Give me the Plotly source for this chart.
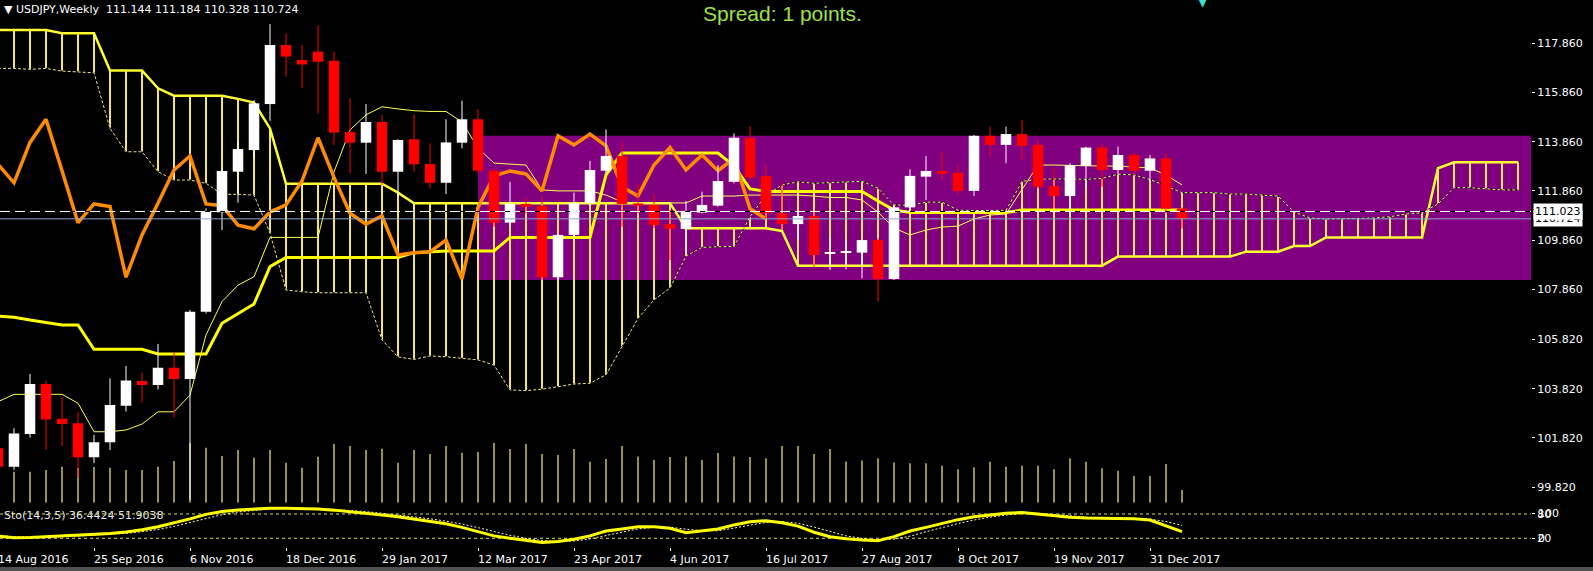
import plotly.graph_objects as go

# weekly USDJPY bars, bar 0 = week of 14 Aug 2016, one tick label every 6 bars
tick_labels = ["14 Aug 2016", "25 Sep 2016", "6 Nov 2016", "18 Dec 2016", "29 Jan 2017",
               "12 Mar 2017", "23 Apr 2017", "4 Jun 2017", "16 Jul 2017", "27 Aug 2017",
               "8 Oct 2017", "19 Nov 2017", "31 Dec 2017"]

opens = [101.40, 100.65, 101.98, 104.01, 102.60, 102.41, 101.03, 101.64, 103.13, 104.13,
         103.97, 104.67, 104.21, 106.95, 110.99, 112.64, 113.52, 115.39, 117.79, 117.18,
         117.52, 117.15, 114.25, 113.82, 114.66, 112.64, 113.96, 112.95, 112.19, 113.82,
         114.77, 112.68, 110.57, 111.33, 111.25, 108.35, 110.07, 111.36, 112.68, 113.28,
         111.35, 111.29, 110.51, 110.31, 110.98, 111.26, 112.23, 114.02, 112.47, 110.95,
         110.51, 110.84, 109.32, 109.35, 109.35, 109.86, 108.28, 111.19, 112.44, 112.67,
         112.60, 111.86, 114.10, 113.73, 114.17, 113.73, 112.06, 111.65, 112.87, 113.62,
         112.71, 113.32, 112.68, 113.18, 111.144]
highs = [101.73, 102.21, 104.42, 104.15, 103.47, 102.86, 101.94, 104.24, 104.74, 104.47,
         105.64, 105.32, 107.02, 111.15, 112.78, 113.86, 115.55, 118.64, 118.26, 117.79,
         118.60, 117.52, 115.62, 115.39, 114.95, 113.96, 114.97, 113.79, 114.77, 115.53,
         115.18, 112.78, 112.23, 111.56, 111.63, 110.13, 111.79, 113.08, 114.36, 113.86,
         112.17, 111.73, 111.08, 111.45, 111.83, 112.91, 114.20, 114.50, 112.91, 112.19,
         111.08, 111.02, 109.93, 109.89, 109.89, 109.93, 111.25, 112.74, 113.28, 113.45,
         112.91, 114.13, 114.47, 114.47, 114.74, 113.93, 112.78, 112.98, 113.66, 113.77,
         113.66, 113.41, 113.32, 113.39, 111.184]
lows = [100.38, 100.52, 101.84, 101.33, 101.49, 100.22, 100.79, 101.33, 102.89, 103.25,
        103.79, 102.66, 99.30, 106.88, 110.27, 111.38, 113.20, 114.71, 116.50, 116.03,
        115.01, 113.73, 112.57, 112.55, 112.10, 111.63, 112.64, 111.96, 111.73, 113.59,
        112.57, 110.41, 110.41, 110.95, 108.24, 108.24, 109.86, 111.22, 112.57, 110.40,
        110.95, 110.34, 109.05, 109.30, 110.95, 111.22, 112.17, 112.30, 110.74, 110.27,
        109.86, 108.78, 108.64, 108.67, 108.31, 107.36, 108.24, 111.08, 111.49, 112.30,
        111.69, 111.65, 113.25, 112.98, 113.14, 111.96, 111.15, 110.81, 111.97, 112.03,
        112.51, 112.51, 112.23, 110.95, 110.328]
closes = [100.65, 102.00, 104.01, 102.57, 102.38, 101.03, 101.64, 103.16, 104.15, 103.97,
          104.67, 104.21, 106.95, 111.02, 112.67, 113.56, 115.42, 117.79, 117.32, 117.00,
          117.11, 114.23, 113.82, 114.66, 112.64, 113.93, 112.94, 112.19, 113.83, 114.77,
          112.68, 110.57, 111.33, 111.22, 108.35, 110.07, 111.36, 112.71, 113.28, 111.33,
          111.26, 110.47, 110.32, 111.00, 111.29, 112.26, 114.02, 112.41, 110.95, 110.51,
          110.84, 109.25, 109.35, 109.38, 109.86, 108.28, 111.19, 112.47, 112.67, 112.55,
          111.86, 114.10, 113.73, 114.17, 113.69, 112.03, 111.65, 112.91, 113.62, 112.71,
          113.32, 112.68, 113.18, 111.14, 110.724]
# tick volume, thousands
volumes_k = [196, 186, 186, 196, 216, 208, 214, 210, 196, 196,
             216, 250, 358, 330, 280, 316, 270, 316, 240, 210,
             276, 352, 340, 316, 324, 240, 316, 292, 340, 300,
             304, 358, 322, 352, 292, 286, 322, 246, 262, 340,
             277, 256, 274, 277, 256, 298, 277, 274, 266, 340,
             340, 292, 322, 247, 253, 266, 241, 236, 236, 222,
             200, 212, 246, 216, 222, 222, 200, 266, 246, 206,
             192, 160, 160, 232, 76]

tenkan = [103.29, 103.59, 103.59, 103.59, 103.59, 103.23, 102.07, 102.07, 102.14, 102.38,
          102.88, 102.88, 103.56, 106.00, 107.36, 108.03, 108.37, 109.97, 109.97, 109.97,
          109.97, 112.63, 114.34, 114.95, 115.28, 115.19, 115.12, 115.09, 115.09, 114.66,
          113.60, 112.99, 112.95, 112.91, 111.90, 111.86, 111.86, 111.86, 111.69, 111.41,
          111.37, 111.37, 111.37, 111.37, 111.65, 111.65, 111.65, 111.69, 111.69, 111.69,
          111.69, 111.65, 111.59, 111.59, 111.49, 111.00, 110.35, 110.07, 110.27, 110.39,
          110.43, 110.72, 110.88, 110.92, 111.90, 112.91, 112.91, 112.89, 112.87, 112.87,
          112.87, 112.83, 112.79, 112.51, 112.10]
kijun = [106.77, 106.72, 106.61, 106.50, 106.41, 106.41, 105.42, 105.42, 105.42, 105.42,
         105.23, 105.23, 105.23, 105.23, 106.48, 106.88, 107.26, 108.78, 109.15, 109.15,
         109.15, 109.15, 109.15, 109.15, 109.15, 109.15, 109.35, 109.39, 109.42, 109.42,
         109.42, 109.42, 109.97, 109.97, 109.97, 109.97, 109.97, 109.97, 112.51, 113.40,
         113.40, 113.40, 113.40, 113.40, 113.40, 113.40, 112.87, 111.94, 111.84, 111.84,
         111.84, 111.84, 111.84, 111.84, 111.84, 111.45, 111.08, 110.98, 110.98, 110.98,
         110.98, 110.98, 110.98, 110.98, 111.08, 111.08, 111.08, 111.08, 111.08, 111.08,
         111.08, 111.08, 111.08, 111.08, 111.08]
# cloud runs 21 bars past the last candle
span_a = [116.84, 116.84, 116.80, 116.84, 116.73, 116.71, 116.66, 114.40, 113.45, 113.45,
          112.64, 112.30, 112.30, 112.17, 111.72, 111.72, 111.69, 110.14, 107.83, 107.76,
          107.72, 107.72, 107.72, 107.72, 105.80, 105.11, 105.01, 105.15, 105.12, 105.06,
          104.99, 104.78, 103.77, 103.74, 103.80, 103.90, 104.01, 104.04, 104.38, 105.53,
          106.68, 107.43, 107.91, 109.21, 109.56, 109.59, 109.60, 110.81, 111.69, 112.10,
          112.23, 112.17, 112.19, 112.23, 112.25, 111.97, 111.29, 111.27, 111.40, 111.40,
          111.08, 111.06, 111.06, 111.07, 112.25, 112.33, 112.35, 112.33, 112.33, 112.37,
          112.54, 112.51, 112.32, 112.06, 111.79, 111.79, 111.79, 111.73, 111.73, 111.69,
          111.65, 111.00, 110.76, 110.72, 110.72, 110.74, 110.76, 110.81, 110.92, 110.97,
          111.33, 111.99, 111.99, 111.93, 111.90, 111.90]
span_b = [118.40, 118.40, 118.40, 118.40, 118.27, 118.27, 118.27, 116.75, 116.75, 116.75,
          116.03, 115.73, 115.73, 115.73, 115.73, 115.60, 115.45, 114.40, 112.15, 112.15,
          112.15, 112.15, 112.15, 112.15, 112.15, 111.79, 111.36, 111.36, 111.36, 111.36,
          111.36, 111.36, 111.36, 111.36, 111.36, 111.36, 111.36, 111.36, 111.36, 111.36,
          111.36, 111.36, 111.36, 110.34, 110.34, 110.34, 110.34, 110.34, 110.34, 110.23,
          108.82, 108.82, 108.82, 108.82, 108.82, 108.82, 108.82, 108.82, 108.82, 108.82,
          108.82, 108.82, 108.82, 108.82, 108.82, 108.82, 108.82, 108.82, 108.82, 108.82,
          109.19, 109.19, 109.19, 109.19, 109.19, 109.19, 109.19, 109.19, 109.39, 109.39,
          109.39, 109.62, 109.62, 109.97, 109.97, 109.97, 109.97, 109.97, 109.97, 109.97,
          112.78, 113.02, 113.02, 113.02, 113.02, 113.02]
chikou_shift = 26

sto_main = [25.7, 21.5, 22.0, 24.0, 25.5, 27.0, 29.0, 32.0, 35.6, 41.0,
            48.7, 58.0, 68.0, 79.0, 86.0, 90.0, 92.5, 94.0, 94.0, 93.2,
            92.0, 89.5, 86.0, 81.7, 77.5, 73.4, 68.0, 63.0, 56.0, 47.0,
            36.0, 26.0, 20.0, 14.0, 9.5, 12.0, 17.5, 26.0, 38.0, 43.0,
            48.7, 48.7, 44.7, 34.0, 38.0, 43.0, 53.0, 61.0, 63.5, 58.5,
            50.0, 35.0, 24.0, 19.0, 16.0, 14.0, 24.0, 38.0, 47.0, 56.0,
            66.0, 73.0, 77.5, 82.0, 83.5, 80.0, 75.0, 72.0, 70.0, 69.0,
            68.5, 68.4, 65.0, 50.4, 36.4424]
sto_signal = [27.0, 24.0, 23.0, 22.5, 23.8, 25.5, 27.2, 29.3, 32.2, 36.2,
              41.8, 49.3, 58.9, 69.0, 78.3, 85.0, 89.5, 92.2, 93.5, 93.7,
              93.1, 91.6, 89.2, 85.7, 81.7, 77.5, 73.0, 68.1, 62.3, 55.3,
              46.3, 36.3, 27.3, 20.0, 14.5, 11.8, 13.2, 18.7, 27.3, 35.7,
              43.2, 46.8, 47.4, 42.5, 38.9, 38.3, 44.7, 52.3, 59.2, 61.0,
              57.3, 47.8, 36.3, 26.0, 19.7, 16.3, 18.0, 25.3, 36.3, 47.0,
              56.3, 65.0, 72.2, 77.5, 81.0, 81.8, 79.5, 75.7, 72.3, 70.3,
              69.2, 68.6, 67.3, 61.3, 51.9038]
sto_levels = [80, 20]

price_ticks = [117.86, 115.86, 113.86, 111.86, 109.86, 107.86, 105.82, 103.82, 101.82, 99.82]
marked_line = 111.023
box_start, box_top, box_bottom = 30, 114.10, 108.24

X_LO, X_HI = 0.125, 95.8125
MAIN_LO, STO_HI = 0.081, 0.0768
FONT = "DejaVu Sans"

bars = list(range(len(closes)))
ahead = list(range(len(span_a)))

fig = go.Figure()

# volume sticks on the base axis of the main panel
vx, vy = [], []
for i, v in zip(bars, volumes_k):
    vx += [i, i, None]
    vy += [0, v, None]
fig.add_trace(go.Scatter(x=vx, y=vy, mode='lines', line=dict(color='#FFF36A', width=1.2),
                         xaxis='x', yaxis='y'))

# ichimoku cloud hatch
hx, hy = [], []
for i, a, b in zip(ahead, span_a, span_b):
    hx += [i, i, None]
    hy += [a, b, None]
fig.add_trace(go.Scatter(x=hx, y=hy, mode='lines', line=dict(color='#F2E85A', width=2), yaxis='y3'))
fig.add_trace(go.Scatter(x=ahead, y=span_b, mode='lines', line=dict(color='#FFFF33', width=2.5), yaxis='y3'))
fig.add_trace(go.Scatter(x=ahead, y=span_a, mode='lines', line=dict(color='black', width=1), yaxis='y3'))
fig.add_trace(go.Scatter(x=ahead, y=span_a, mode='lines',
                         line=dict(color='#EEE68C', width=1, dash='3px,2px'), yaxis='y3'))
fig.add_trace(go.Scatter(x=bars, y=kijun, mode='lines', line=dict(color='#FFFF00', width=3), yaxis='y3'))
fig.add_trace(go.Scatter(x=bars, y=tenkan, mode='lines', line=dict(color='#FFFF55', width=1), yaxis='y3'))
fig.add_trace(go.Scatter(x=bars[:len(closes) - chikou_shift], y=closes[chikou_shift:], mode='lines',
                         line=dict(color='#FF8C00', width=3.5), yaxis='y3'))

# candles
up = [i for i in bars if closes[i] >= opens[i]]
dn = [i for i in bars if closes[i] < opens[i]]
for idx, col in ((up, '#FFFFFF'), (dn, '#FF0000')):
    wx, wy = [], []
    for i in idx:
        wx += [i, i, None]
        wy += [lows[i], highs[i], None]
    fig.add_trace(go.Scatter(x=wx, y=wy, mode='lines', line=dict(color=col, width=1),
                             yaxis='y3', zorder=2))
    fig.add_trace(go.Bar(x=idx, y=[max(abs(closes[i] - opens[i]), 0.05) for i in idx],
                         base=[min(opens[i], closes[i]) for i in idx], width=0.66,
                         marker=dict(color=col, line_width=0), yaxis='y3', zorder=2))

# stochastic panel
for lv in sto_levels:
    fig.add_trace(go.Scatter(x=[X_LO, X_HI], y=[lv, lv], mode='lines',
                             line=dict(color='#E0E040', width=1, dash='3px,3px'),
                             xaxis='x2', yaxis='y2'))
fig.add_trace(go.Scatter(x=bars, y=sto_signal, mode='lines',
                         line=dict(color='#FFFFAA', width=1, dash='2px,2px'), xaxis='x2', yaxis='y2'))
fig.add_trace(go.Scatter(x=bars, y=sto_main, mode='lines', line=dict(color='#FFFF00', width=3),
                         xaxis='x2', yaxis='y2'))

fig.add_shape(type='rect', xref='x', yref='y3', x0=box_start, x1=X_HI, y0=box_bottom, y1=box_top,
              fillcolor='#800080', line_width=0, layer='below')
fig.add_shape(type='line', xref='paper', yref='y3', x0=0, x1=1, y0=marked_line, y1=marked_line,
              line=dict(color='black', width=1))
fig.add_shape(type='line', xref='paper', yref='y3', x0=0, x1=1, y0=marked_line, y1=marked_line,
              line=dict(color='white', width=1, dash='10px,5px'))
fig.add_shape(type='line', xref='paper', yref='y3', x0=0, x1=1, y0=closes[-1], y1=closes[-1],
              line=dict(color='#8DA4CF', width=1))
fig.add_shape(type='rect', xref='paper', yref='paper', x0=-0.01, x1=1.05, y0=-0.0439, y1=-0.0366,
              fillcolor='#505050', line_width=0)


def px(bar):
    return (bar - X_LO) / (X_HI - X_LO)


ann = []
for k, lab in enumerate(tick_labels):
    ann.append(dict(x=px(6 * k - 0.1), y=-0.022, xref='paper', yref='paper', text=lab,
                    xanchor='left', yanchor='middle', showarrow=False,
                    font=dict(family=FONT, size=11, color='white')))
header = "\u25BC USDJPY,Weekly  {:.3f} {:.3f} {:.3f} {:.3f}".format(opens[-1], highs[-1], lows[-1], closes[-1])
ann.append(dict(x=2 / 1531, y=1, xref='paper', yref='paper', text=header, xanchor='left',
                yanchor='top', yshift=-1, showarrow=False, font=dict(family=FONT, size=11, color='white')))
ann.append(dict(x=782 / 1531, y=1, xref='paper', yref='paper', text="Spread: 1 points.",
                xanchor='center', yanchor='top', showarrow=False,
                font=dict(family="Liberation Sans", size=21, color='#9FE04A')))
ann.append(dict(x=1203 / 1531, y=1, xref='paper', yref='paper', text="\u25BC", xanchor='center',
                yanchor='middle', yshift=-2, showarrow=False,
                font=dict(family=FONT, size=12, color='#40E0D0')))
ann.append(dict(x=2 / 1531, y=0.0567, xref='paper', yref='paper',
                text="Sto(14,3,5) {:.4f} {:.4f}".format(sto_main[-1], sto_signal[-1]),
                xanchor='left', yanchor='middle', showarrow=False,
                font=dict(family=FONT, size=11, color='#E6E6E6')))
for txt, lv in (("100", 80), ("0", 20)):
    ann.append(dict(x=1 + 5 / 1531, y=lv, xref='paper', yref='y2', text=txt, xanchor='left',
                    yanchor='middle', showarrow=False, font=dict(family=FONT, size=11, color='white')))
for val in (closes[-1], marked_line):
    ann.append(dict(x=1 + 2 / 1531, y=val, xref='paper', yref='y3', text="{:.3f}".format(val),
                    xanchor='left', yanchor='middle', showarrow=False, bgcolor='white',
                    borderpad=1, font=dict(family=FONT, size=11, color='black')))

fig.update_layout(
    width=1593, height=571,
    margin=dict(l=0, r=62, t=0, b=24),
    paper_bgcolor='black', plot_bgcolor='black',
    showlegend=False, barmode='overlay',
    xaxis=dict(domain=[0, 1], range=[X_LO, X_HI], anchor='y', showgrid=False, zeroline=False,
               showticklabels=False, ticks='', showline=True, linecolor='white', linewidth=1),
    yaxis=dict(domain=[MAIN_LO, 1], range=[0, 3016], visible=False, fixedrange=True),
    yaxis3=dict(overlaying='y', side='right', anchor='x', range=[99.185, 119.62], showgrid=False,
                zeroline=False, tickvals=price_ticks, ticktext=["{:.3f}".format(v) for v in price_ticks],
                ticks='outside', ticklen=3, tickcolor='white', showline=True, linecolor='white',
                linewidth=1, tickfont=dict(family=FONT, size=11, color='white')),
    xaxis2=dict(domain=[0, 1], range=[X_LO, X_HI], anchor='y2', showgrid=False, zeroline=False,
                tickvals=[6 * k for k in range(len(tick_labels))], showticklabels=False,
                ticks='outside', ticklen=3, tickcolor='white', showline=True, mirror=True,
                linecolor='white', linewidth=1),
    yaxis2=dict(domain=[0, STO_HI], range=[-1.5, 102.2], side='right', anchor='x2', showgrid=False,
                zeroline=False, tickvals=sto_levels, ticktext=[str(v) for v in sto_levels],
                ticks='outside', ticklen=3, tickcolor='white', showline=True, linecolor='white',
                linewidth=1, tickfont=dict(family=FONT, size=11, color='white')),
    annotations=ann,
)

fig.write_html("out.html", config={'displayModeBar': False},
               post_script="document.body.style.margin='0px';document.body.style.overflow='hidden';")
